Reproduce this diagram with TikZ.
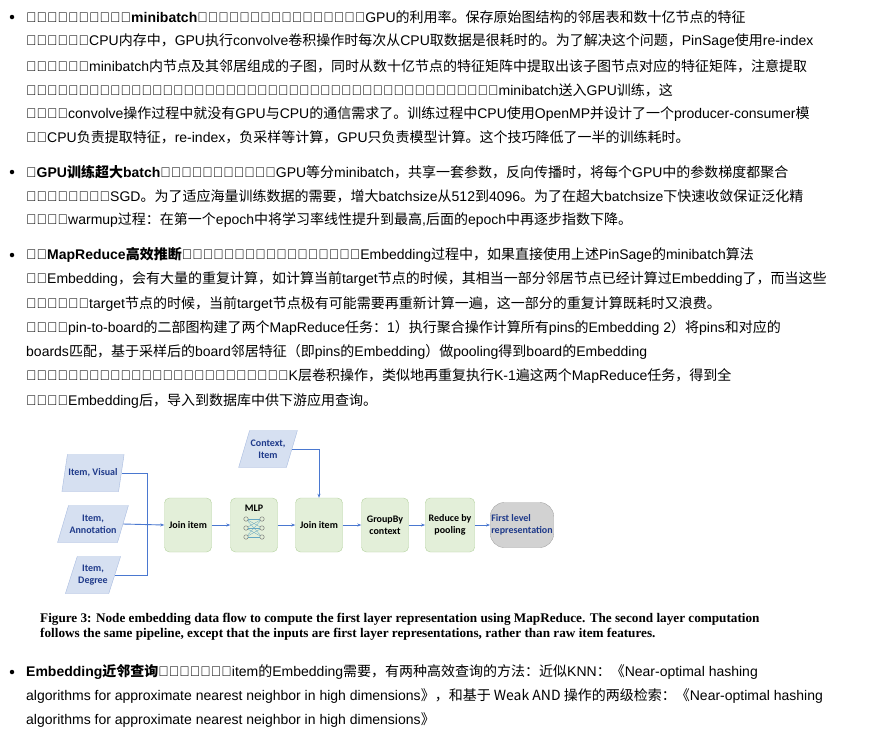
\documentclass[tikz,border=0pt]{standalone}
\usepackage{fontspec}
\setmainfont{Liberation Sans}
\newfontfamily\cjkfont{Noto Sans CJK SC}
\newfontfamily\latinfont{Liberation Sans}
\newfontfamily\capfont{Liberation Serif}
\newfontfamily\diafont{Carlito}
\XeTeXinterchartokenstate=1
\newXeTeXintercharclass\CJKcls
\count255="4E00
\loop \XeTeXcharclass\count255=\CJKcls \ifnum\count255<"9FFF \advance\count255 by 1 \repeat
\count255="3000
\loop \XeTeXcharclass\count255=\CJKcls \ifnum\count255<"303F \advance\count255 by 1 \repeat
\count255="FF00
\loop \XeTeXcharclass\count255=\CJKcls \ifnum\count255<"FFEF \advance\count255 by 1 \repeat
\XeTeXinterchartoks 0 \CJKcls = {\cjkfont}
\XeTeXinterchartoks 255 \CJKcls = {\cjkfont}
\XeTeXinterchartoks \CJKcls 0 = {\latinfont}
\usetikzlibrary{shapes.geometric,arrows.meta}
\definecolor{boxfill}{HTML}{E3EFD9}
\definecolor{boxdraw}{HTML}{B5D3A0}
\definecolor{parafill}{HTML}{D6E0F1}
\definecolor{paradraw}{HTML}{A9BCE0}
\definecolor{paratext}{HTML}{1F3A8A}
\definecolor{linec}{HTML}{4A78D0}
\tikzset{
 txt/.style={anchor=west,inner sep=0pt,font=\fontsize{14}{16}\selectfont},
 bul/.style={circle,fill=black,inner sep=0pt,minimum size=4.5pt},
 para/.style={trapezium,trapezium left angle=62,trapezium right angle=118,draw=paradraw,fill=parafill,minimum width=50pt,minimum height=37pt,trapezium stretches=true,align=center,font=\diafont\bfseries\fontsize{10}{12}\selectfont,text=paratext,inner sep=1pt},
 proc/.style={rounded corners=5pt,draw=boxdraw,fill=boxfill,minimum width=47pt,minimum height=54pt,align=center,font=\diafont\bfseries\fontsize{10}{12}\selectfont},
 flow/.style={draw=linec,line width=0.9pt,-{Stealth[length=4pt]}},
 fline/.style={draw=linec,line width=0.9pt}
}
\begin{document}
\begin{tikzpicture}[x=1pt,y=-1pt]
\useasboundingbox (0,0) rectangle (896,732);
\fill[white] (0,0) rectangle (896,732);
% bullet 1
\node[bul] (b1) at (12,17) {};
\node[txt] (l1) at (26,17) {\textbf{生产者消费者模式构建minibatch}：这个点主要是为了提高模型训练时GPU的利用率。保存原始图结构的邻居表和数十亿节点的特征};
\node[txt] (l2) at (26,41) {矩阵只能放在CPU内存中，GPU执行convolve卷积操作时每次从CPU取数据是很耗时的。为了解决这个问题，PinSage使用re-index};
\node[txt] (l3) at (26,66) {技术创建当前minibatch内节点及其邻居组成的子图，同时从数十亿节点的特征矩阵中提取出该子图节点对应的特征矩阵，注意提取};
\node[txt] (l4) at (26,90) {后的特征矩阵中的节点索引要与前面子图中的索引保持一致。这个子图的邻接列表和特征矩阵作为一个minibatch送入GPU训练，这};
\node[txt] (l5) at (26,114) {样一来，convolve操作过程中就没有GPU与CPU的通信需求了。训练过程中CPU使用OpenMP并设计了一个producer-consumer模};
\node[txt] (l6) at (26,137) {式，CPU负责提取特征，re-index，负采样等计算，GPU只负责模型计算。这个技巧降低了一半的训练耗时。};
% bullet 2
\node[bul] (b2) at (12,172) {};
\node[txt] (m1) at (26,172) {\textbf{多GPU训练超大batch}：前向传播过程中，各个GPU等分minibatch，共享一套参数，反向传播时，将每个GPU中的参数梯度都聚合};
\node[txt] (m2) at (26,196) {到一起，执行同步SGD。为了适应海量训练数据的需要，增大batchsize从512到4096。为了在超大batchsize下快速收敛保证泛化精};
\node[txt] (m3) at (26,220) {度，采用warmup过程：在第一个epoch中将学习率线性提升到最高,后面的epoch中再逐步指数下降。};
% bullet 3
\node[bul] (b3) at (12,255) {};
\node[txt] (n1) at (26,255) {\textbf{使用MapReduce高效推断}：模型训练完成后生成图中各个节点的Embedding过程中，如果直接使用上述PinSage的minibatch算法};
\node[txt] (n2) at (26,279) {生成Embedding，会有大量的重复计算，如计算当前target节点的时候，其相当一部分邻居节点已经计算过Embedding了，而当这些};
\node[txt] (n3) at (26,304) {邻居节点作为target节点的时候，当前target节点极有可能需要再重新计算一遍，这一部分的重复计算既耗时又浪费。};
\node[txt] (n4) at (26,328) {因此针对pin-to-board的二部图构建了两个MapReduce任务：1）执行聚合操作计算所有pins的Embedding 2）将pins和对应的};
\node[txt] (n5) at (26,352) {boards匹配，基于采样后的board邻居特征（即pins的Embedding）做pooling得到board的Embedding};
\node[txt] (n6) at (26,376) {两个任务执行完后第一层的卷积操作就执行完了，如果有K层卷积操作，类似地再重复执行K-1遍这两个MapReduce任务，得到全};
\node[txt] (n7) at (26,401) {量节点的Embedding后，导入到数据库中供下游应用查询。};
% diagram
\node[para] (iv) at (93,473) {Item, Visual};
\node[para] (ia) at (93,524) {Item,\\Annotation};
\node[para] (id) at (93,575) {Item,\\Degree};
\node[para,minimum width=58pt] (ci) at (268,449) {Context,\\Item};
\node[proc] (j1) at (188,525) {Join item};
\node[proc] (mlp) at (254,525) {};
\node[font=\diafont\bfseries\fontsize{10}{12}\selectfont,inner sep=0pt] (mlpt) at (254,508) {MLP};
\foreach \i in {0,1,2}{
  \node[circle,draw=gray!80!black,inner sep=0pt,minimum size=4.5pt,line width=0.4pt] (L\i) at (246,519+\i*9) {};
  \node[circle,draw=gray!80!black,inner sep=0pt,minimum size=4.5pt,line width=0.4pt] (R\i) at (262,519+\i*9) {};
}
\foreach \i in {0,1,2}{\foreach \j in {0,1,2}{\draw[cyan!50!gray,line width=0.3pt] (L\i) -- (R\j);}}
\node[proc] (j2) at (319,525) {Join item};
\node[proc] (gb) at (385,525) {GroupBy\\context};
\node[proc] (rp) at (450,525) {Reduce by\\pooling};
\node[rounded corners=14pt,draw=gray!70,fill=gray!35,minimum width=61pt,minimum height=45pt,align=left,font=\diafont\bfseries\fontsize{10}{12}\selectfont,text=paratext,inner sep=1pt] (fl) at (522,525) {First level\\representation};
\coordinate (jn) at (147,524);
\draw[fline] (iv.east) -- (iv.east -| jn) -- (id.east -| jn) -- (id.east);
\draw[flow] (ia.east) -- (j1.west);
\draw[flow] (j1) -- (mlp);
\draw[flow] (mlp) -- (j2);
\draw[flow] (j2) -- (gb);
\draw[flow] (gb) -- (rp);
\draw[flow] (rp) -- (fl);
\draw[flow] (ci.east) -| (j2.north);
% caption
\node[anchor=west,inner sep=0pt,font=\capfont\bfseries\fontsize{13.2}{15}\selectfont] (c1) at (40,619) {Figure 3: Node embedding data flow to compute the first layer representation using MapReduce. The second layer computation};
\node[anchor=west,inner sep=0pt,font=\capfont\bfseries\fontsize{13.2}{15}\selectfont] (c2) at (40,634) {follows the same pipeline, except that the inputs are first layer representations, rather than raw item features.};
% bullet 4
\node[bul] (b4) at (12,672) {};
\node[txt] (p1) at (26,672) {\textbf{Embedding近邻查询}：为了在线查询item的Embedding需要，有两种高效查询的方法：近似KNN：《Near-optimal hashing};
\node[txt] (p2) at (26,696) {algorithms for approximate nearest neighbor in high dimensions》，和基于 Weak AND 操作的两级检索：《Near-optimal hashing};
\node[txt] (p3) at (26,720) {algorithms for approximate nearest neighbor in high dimensions》};
\end{tikzpicture}
\end{document}
